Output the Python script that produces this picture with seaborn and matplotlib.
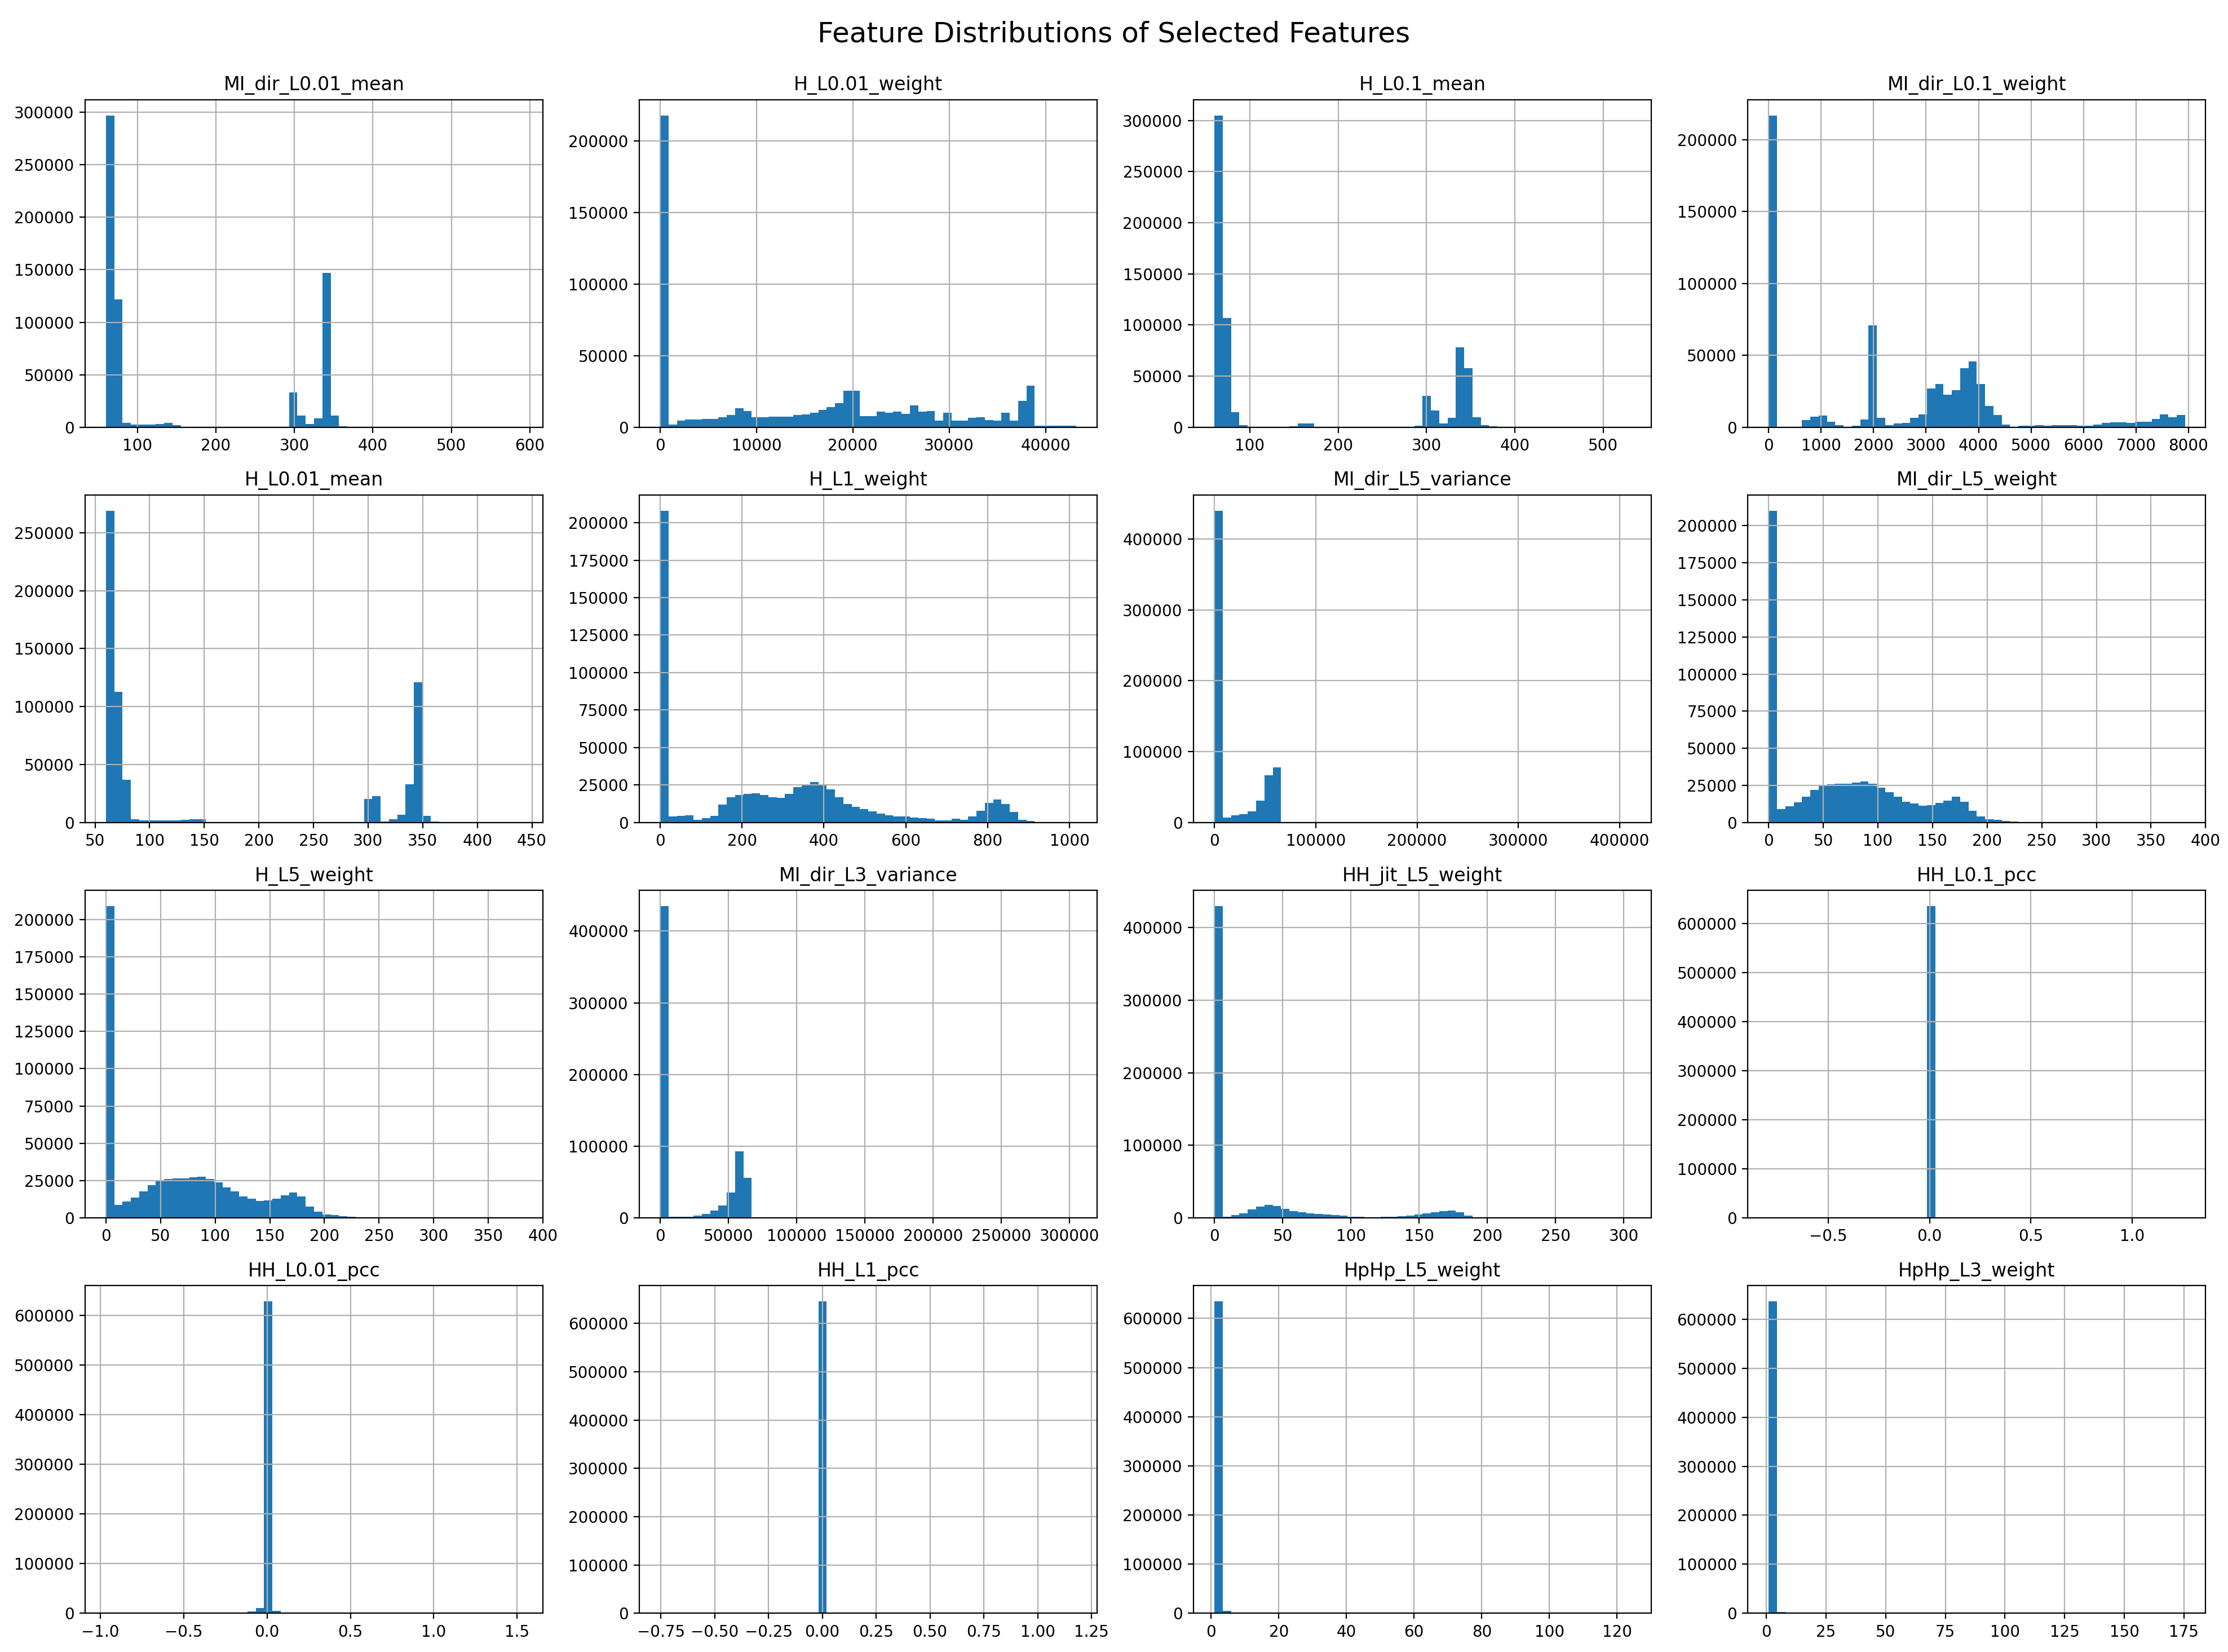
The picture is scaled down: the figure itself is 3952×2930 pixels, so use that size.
import numpy as np
import matplotlib
matplotlib.use("Agg")
import matplotlib.pyplot as plt
import seaborn as sns

# ---------------- data (50-bin histogram counts) ----------------
features = ["MI_dir_L0.01_mean", "H_L0.01_weight", "H_L0.1_mean", "MI_dir_L0.1_weight",
            "H_L0.01_mean", "H_L1_weight", "MI_dir_L5_variance", "MI_dir_L5_weight",
            "H_L5_weight", "MI_dir_L3_variance", "HH_jit_L5_weight", "HH_L0.1_pcc",
            "HH_L0.01_pcc", "HH_L1_pcc", "HpHp_L5_weight", "HpHp_L3_weight"]

ranges = [(60, 590), (0, 43200), (60, 531), (0, 7933),
          (60, 441), (0, 1017), (0, 410700), (0, 381),
          (0, 381), (0, 305000), (0, 305), (-0.794, 1.26),
          (-0.966, 1.53), (-0.753, 1.18), (1, 124), (1, 175.4)]

mi_dir_l001_mean = [297000, 122000, 4000, 2500, 2500, 2500, 3000, 4000, 2000, 0,
                    0, 0, 0, 0, 0, 0, 0, 0, 0, 0,
                    0, 0, 33000, 11000, 3000, 8500, 147000, 11000, 1000, 0,
                    0, 0, 0, 0, 0, 0, 0, 0, 0, 0,
                    0, 0, 0, 0, 0, 0, 0, 0, 0, 0]
h_l001_weight = [218000, 2000, 4500, 5500, 5500, 6000, 6000, 7000, 8500, 13500,
                 11500, 7000, 7200, 7300, 7500, 7600, 8500, 9000, 10000, 12000,
                 14000, 17000, 25500, 25500, 8000, 8000, 11000, 10000, 11000, 9500,
                 15500, 11000, 11500, 4500, 10000, 4500, 4500, 6500, 7000, 5000,
                 4500, 10000, 4500, 18500, 29000, 1000, 1000, 1000, 1000, 1000]
h_l01_mean = [305000, 107000, 15000, 2000, 700, 700, 700, 700, 700, 1000,
              3500, 3500, 0, 0, 0, 0, 0, 0, 0, 0,
              0, 0, 0, 500, 1500, 31000, 16500, 4000, 9500, 78000,
              58000, 10000, 2000, 1000, 500, 0, 0, 0, 0, 0,
              0, 0, 0, 0, 0, 0, 0, 0, 0, 0]
mi_dir_l01_weight = [217000, 0, 0, 0, 5000, 7500, 8000, 4000, 1500, 500,
                     1000, 5500, 71000, 6500, 1500, 2500, 3000, 6500, 9000, 27000,
                     30000, 22500, 26000, 41000, 46000, 30000, 15000, 8500, 2000, 500,
                     1000, 1000, 1500, 1000, 1500, 1500, 1500, 1000, 1000, 2000,
                     3000, 3500, 3500, 3000, 4000, 4000, 6000, 9000, 7000, 8500]
h_l001_mean = [269000, 113000, 37000, 3000, 2000, 2000, 2000, 2000, 2000, 2500,
               3000, 3000, 0, 0, 0, 0, 0, 0, 0, 0,
               0, 0, 0, 0, 0, 0, 0, 0, 0, 0,
               0, 20500, 23000, 1000, 3000, 7000, 33000, 121000, 6000, 1000,
               500, 0, 0, 0, 0, 0, 0, 0, 0, 0]
h_l1_weight = [208000, 4000, 4500, 5000, 2000, 3000, 4500, 12000, 17000, 18500,
               19000, 19500, 18500, 17000, 16500, 19000, 23500, 25500, 27000, 25000,
               22000, 17000, 12500, 10500, 9000, 7500, 6000, 5000, 4000, 4000,
               3500, 3000, 2500, 1500, 1500, 2500, 2000, 4000, 8000, 13000,
               15500, 12500, 7000, 2000, 1000, 500, 200, 200, 200, 200]
mi_dir_l5_variance = [440000, 7000, 10000, 12000, 16000, 31000, 67000, 78000, 0, 0,
                      0, 0, 0, 0, 0, 0, 0, 0, 0, 0,
                      0, 0, 0, 0, 0, 0, 0, 0, 0, 0,
                      0, 0, 0, 0, 0, 0, 0, 0, 0, 0,
                      0, 0, 0, 0, 0, 0, 0, 0, 0, 0]
mi_dir_l5_weight = [210000, 9000, 11000, 13500, 17300, 21900, 24600, 25800, 26100, 26300,
                    26900, 27500, 26000, 23400, 20300, 17300, 14200, 12700, 11500, 11900,
                    13200, 14900, 17300, 14000, 8100, 4200, 2200, 1700, 1000, 700,
                    500, 400, 300, 200, 100, 100, 100, 50, 50, 50,
                    0, 0, 0, 0, 0, 0, 0, 0, 0, 0]
h_l5_weight = [209000, 8800, 10800, 13500, 17600, 22000, 24900, 26000, 26400, 26400,
               27200, 27700, 26000, 23700, 20600, 17600, 14500, 12700, 11500, 11800,
               13000, 15200, 17000, 14400, 7600, 4200, 2400, 1900, 1200, 700,
               500, 300, 300, 200, 100, 100, 100, 50, 50, 50,
               0, 0, 0, 0, 0, 0, 0, 0, 0, 0]
mi_dir_l3_variance = [435000, 1500, 1500, 1500, 3500, 5600, 10500, 17000, 35500, 93000,
                      56000, 0, 0, 0, 0, 0, 0, 0, 0, 0,
                      0, 0, 0, 0, 0, 0, 0, 0, 0, 0,
                      0, 0, 0, 0, 0, 0, 0, 0, 0, 0,
                      0, 0, 0, 0, 0, 0, 0, 0, 0, 0]
hh_jit_l5_weight = [430000, 1800, 4200, 6500, 12000, 15800, 18200, 16600, 12700, 9600,
                    8100, 6500, 5700, 4900, 4200, 3400, 1800, 1800, 1000, 1000,
                    1800, 1800, 2600, 3400, 4900, 6500, 8100, 9600, 10400, 8100,
                    3400, 1000, 300, 100, 50, 50, 0, 0, 0, 0,
                    0, 0, 0, 0, 0, 0, 0, 0, 0, 0]
hh_l01_pcc = [0, 0, 0, 0, 0, 0, 0, 0, 0, 0,
              0, 800, 800, 1500, 800, 500, 0, 0, 1500, 636000,
              0, 0, 0, 0, 0, 0, 0, 0, 0, 0,
              0, 0, 0, 0, 0, 0, 0, 0, 0, 0,
              0, 0, 0, 0, 0, 0, 0, 0, 0, 0]
hh_l001_pcc = [0, 0, 0, 0, 0, 0, 0, 0, 0, 0,
               0, 0, 0, 0, 0, 500, 1000, 4000, 10800, 629000,
               5000, 1500, 500, 300, 300, 800, 300, 0, 0, 0,
               0, 0, 0, 0, 0, 0, 0, 0, 0, 0,
               0, 0, 0, 0, 0, 0, 0, 0, 0, 0]
hh_l1_pcc = [0, 0, 0, 0, 0, 0, 0, 0, 0, 0,
             0, 0, 0, 800, 800, 0, 0, 0, 0, 646000,
             1000, 0, 0, 0, 0, 0, 0, 0, 0, 0,
             0, 0, 0, 0, 0, 0, 0, 0, 0, 0,
             0, 0, 0, 0, 0, 0, 0, 0, 0, 0]
hphp_l5_weight = [635000, 5000, 0, 0, 0, 0, 0, 0, 0, 0,
                  800, 800, 800, 800, 800, 0, 0, 0, 0, 0,
                  0, 0, 0, 0, 0, 0, 0, 0, 0, 0,
                  0, 0, 0, 0, 0, 0, 0, 0, 0, 0,
                  0, 0, 0, 0, 0, 0, 0, 0, 0, 0]
hphp_l3_weight = [637000, 2500, 0, 0, 0, 0, 0, 0, 0, 0,
                  0, 0, 800, 800, 800, 800, 800, 800, 0, 0,
                  0, 0, 0, 0, 0, 0, 0, 0, 0, 0,
                  0, 0, 0, 0, 0, 0, 0, 0, 0, 0,
                  0, 0, 0, 0, 0, 0, 0, 0, 0, 0]

counts = [mi_dir_l001_mean, h_l001_weight, h_l01_mean, mi_dir_l01_weight,
          h_l001_mean, h_l1_weight, mi_dir_l5_variance, mi_dir_l5_weight,
          h_l5_weight, mi_dir_l3_variance, hh_jit_l5_weight, hh_l01_pcc,
          hh_l001_pcc, hh_l1_pcc, hphp_l5_weight, hphp_l3_weight]

N_BINS = 50
DPI = 200

# ---------------- figure ----------------
fig, axes = plt.subplots(4, 4, figsize=(3952 / DPI, 2930 / DPI), dpi=DPI)
fig.subplots_adjust(left=0.0382, right=0.9900, top=0.9396, bottom=0.0235,
                    wspace=0.2106, hspace=0.207)

for ax, name, (lo, hi), cnt in zip(axes.flat, features, ranges, counts):
    edges = np.linspace(lo, hi, N_BINS + 1)
    centers = (edges[:-1] + edges[1:]) / 2
    sns.histplot(x=centers, weights=np.asarray(cnt, dtype=float), bins=N_BINS,
                 binrange=(lo, hi), ax=ax, color="#1f77b4", alpha=1.0,
                 linewidth=0, edgecolor="none")
    ax.set_title(name, fontsize=12)
    ax.set_xlabel("")
    ax.set_ylabel("")
    ax.tick_params(labelsize=10)
    ax.grid(True)

fig.suptitle("Feature Distributions of Selected Features", fontsize=18,
             y=0.9874, va="top")

fig.savefig("out.png", dpi=DPI)
